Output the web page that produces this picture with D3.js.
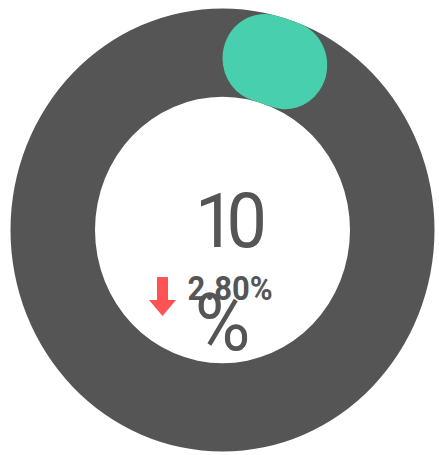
<!DOCTYPE html>
<html>
<head>
<meta charset="utf-8">
<script src="https://cdn.jsdelivr.net/npm/d3@7"></script>
<style>
  html, body { margin: 0; background: #fff; }
  svg { display: block; }
</style>
</head>
<body>
<svg id="chart"></svg>
<script>
// Gauge data
const gaugeValue = [10];
const gaugeDomain = [0, 100];
const unitLabel = ['%'];
const changeValue = [2.80];
const changeDirection = ['down'];

const width = 439, height = 455;
const cx = 222.5, cy = 230;
const outerR = 212, innerR = 127.5;
const yStretch = 1.045;
const font = 'Roboto, "Open Sans", sans-serif';

const svg = d3.select('#chart')
  .attr('width', width)
  .attr('height', height)
  .attr('viewBox', `0 0 ${width} ${height}`);

const g = svg.append('g')
  .attr('transform', `translate(${cx},${cy}) scale(1,${yStretch})`);

const angle = d3.scaleLinear()
  .domain(gaugeDomain)
  .range([0, 2 * Math.PI]);

const arc = d3.arc()
  .innerRadius(innerR)
  .outerRadius(outerR);

// Track
g.append('path')
  .attr('d', arc({ startAngle: 0, endAngle: 2 * Math.PI }))
  .attr('fill', '#555555');

// Value arc with rounded ends
g.append('path')
  .attr('d', arc.cornerRadius((outerR - innerR) / 2)({ startAngle: 0, endAngle: angle(gaugeValue[0]) }))
  .attr('fill', '#48cfad');

// Main value
g.append('text')
  .attr('x', 4)
  .attr('y', 16)
  .attr('text-anchor', 'middle')
  .attr('font-family', font)
  .attr('font-size', 72)
  .attr('letter-spacing', -9)
  .attr('fill', '#555555')
  .text(gaugeValue[0]);

// Unit wrapped on the next line
g.append('text')
  .attr('x', 0)
  .attr('y', 115)
  .attr('text-anchor', 'middle')
  .attr('font-family', font)
  .attr('font-size', 76)
  .attr('fill', '#555555')
  .text(unitLabel[0]);

// Change value
g.append('text')
  .attr('x', -35)
  .attr('y', 67)
  .attr('font-family', font)
  .attr('font-weight', 700)
  .attr('font-size', 31)
  .attr('fill', '#555555')
  .text(`${changeValue[0].toFixed(2)}%`);

// Down arrow
const ax = -60, arrowTop = 45, headY = 67, arrowBottom = 82.3, shaft = 5.5, head = 13.5;
const p = d3.path();
if (changeDirection[0] === 'down') {
  p.moveTo(ax - shaft, arrowTop);
  p.lineTo(ax + shaft, arrowTop);
  p.lineTo(ax + shaft, headY);
  p.lineTo(ax + head, headY);
  p.lineTo(ax, arrowBottom);
  p.lineTo(ax - head, headY);
  p.lineTo(ax - shaft, headY);
  p.closePath();
}
g.append('path')
  .attr('d', p.toString())
  .attr('fill', '#ff5252');
</script>
</body>
</html>
